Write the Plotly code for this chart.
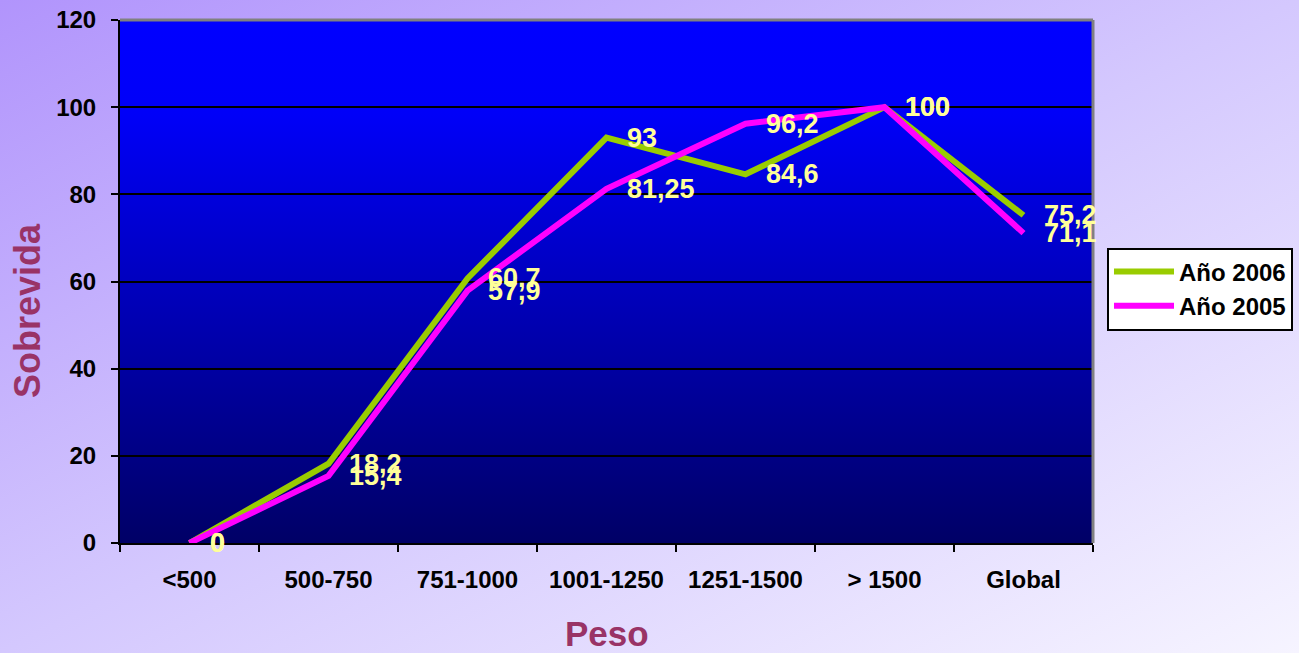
import base64
import plotly.graph_objects as go

categories = ["<500", "500-750", "751-1000", "1001-1250", "1251-1500", "> 1500", "Global"]
anio_2006 = [0, 18.2, 60.7, 93, 84.6, 100, 75.2]
anio_2005 = [0, 15.4, 57.9, 81.25, 96.2, 100, 71.1]
series_names = ["Año 2006", "Año 2005"]
y_ticks = [0, 20, 40, 60, 80, 100, 120]

W, H = 1299, 653
L, R, T, B = 120, 206, 20, 110
PW, PH = W - L - R, H - T - B

FONT = "Liberation Sans, Arial, sans-serif"
TITLE_COLOR = "#993366"
LABEL_COLOR = "#FFFF99"


def svg_uri(svg):
    return "data:image/svg+xml;base64," + base64.b64encode(svg.encode()).decode()


paper_svg = (
    '<svg xmlns="http://www.w3.org/2000/svg" width="1299" height="653" '
    'viewBox="0 0 1299 653" preserveAspectRatio="none">'
    '<defs><linearGradient id="g" x1="0" y1="0" x2="1" y2="1">'
    '<stop offset="0" stop-color="#B194FC"/>'
    '<stop offset="0.5" stop-color="#D4C8FE"/>'
    '<stop offset="1" stop-color="#F6F4FF"/>'
    '</linearGradient></defs>'
    '<rect x="0" y="0" width="1299" height="653" fill="url(#g)"/></svg>'
)
plot_svg = (
    '<svg xmlns="http://www.w3.org/2000/svg" width="100" height="100" '
    'viewBox="0 0 100 100" preserveAspectRatio="none">'
    '<defs><linearGradient id="b" x1="0" y1="0" x2="0" y2="1">'
    '<stop offset="0" stop-color="#0000FF"/>'
    '<stop offset="0.18" stop-color="#0000F8"/>'
    '<stop offset="1" stop-color="#000066"/>'
    '</linearGradient></defs>'
    '<rect x="0" y="0" width="100" height="100" fill="url(#b)"/></svg>'
)

fig = go.Figure()
colors = ["#99CC00", "#FF00FF"]
for name, vals, col in zip(series_names, [anio_2006, anio_2005], colors):
    fig.add_trace(go.Scatter(
        x=categories, y=vals, mode="lines", name=name,
        line=dict(color=col, width=6),
    ))

annotations = []
for vals in [anio_2006, anio_2005]:
    for c, v in zip(categories, vals):
        annotations.append(dict(
            x=c, y=v, xref="x", yref="y", text=f"{v:g}".replace(".", ","),
            showarrow=False, xanchor="left", yanchor="middle", xshift=18,
            font=dict(family=FONT, size=27, color=LABEL_COLOR, weight="bold"),
        ))

annotations.append(dict(
    x=-(L - 28) / PW, y=(H - B - 311) / PH, xref="paper", yref="paper",
    text="Sobrevida", textangle=-90, showarrow=False,
    xanchor="center", yanchor="middle",
    font=dict(family=FONT, size=36, color=TITLE_COLOR, weight="bold"),
))
annotations.append(dict(
    x=0.5, y=-(633 - (H - B)) / PH, xref="paper", yref="paper",
    text="Peso", showarrow=False, xanchor="center", yanchor="middle",
    font=dict(family=FONT, size=35, color=TITLE_COLOR, weight="bold"),
))

fig.update_layout(
    width=W, height=H,
    margin=dict(l=L, r=R, t=T, b=B, pad=0, autoexpand=False),
    paper_bgcolor="#D0C4FC",
    plot_bgcolor="rgba(0,0,0,0)",
    showlegend=True,
    legend=dict(
        x=(1107 - L) / PW, y=(H - B - 289) / PH, xanchor="left", yanchor="middle",
        bgcolor="white", bordercolor="black", borderwidth=2,
        font=dict(family=FONT, size=24, color="black", weight="bold"),
        itemwidth=60, tracegroupgap=4,
    ),
    xaxis=dict(
        type="category", categoryorder="array", categoryarray=categories,
        range=[-0.5, len(categories) - 0.5],
        showgrid=False, showline=True, linecolor="black", linewidth=2,
        ticks="outside", tickson="boundaries", ticklen=7, tickwidth=2, tickcolor="black",
        tickfont=dict(family=FONT, size=24, color="black", weight="bold"),
        ticklabelstandoff=14, zeroline=False, automargin=False,
    ),
    yaxis=dict(
        range=[0, 120], tickvals=y_ticks,
        showgrid=True, gridcolor="black", gridwidth=2,
        showline=True, linecolor="black", linewidth=2,
        ticks="outside", ticklen=7, tickwidth=2, tickcolor="black",
        tickfont=dict(family=FONT, size=24, color="black", weight="bold"),
        ticklabelstandoff=10, zeroline=False, automargin=False,
    ),
    annotations=annotations,
    images=[
        dict(source=svg_uri(paper_svg), xref="paper", yref="paper",
             x=-L / PW, y=(H - B) / PH, sizex=W / PW, sizey=H / PH,
             sizing="stretch", xanchor="left", yanchor="top", layer="below"),
        dict(source=svg_uri(plot_svg), xref="paper", yref="paper",
             x=0, y=1, sizex=1, sizey=1,
             sizing="stretch", xanchor="left", yanchor="top", layer="below"),
    ],
    shapes=[
        dict(type="line", xref="paper", yref="paper", x0=0, x1=1, y0=1, y1=1,
             line=dict(color="#808080", width=3)),
        dict(type="line", xref="paper", yref="paper", x0=1, x1=1, y0=0, y1=1,
             line=dict(color="#808080", width=3)),
    ],
)

fig.write_html(
    "out.html",
    config={"displayModeBar": False},
    post_script="document.body.style.margin='0';document.body.style.overflow='hidden';",
)
